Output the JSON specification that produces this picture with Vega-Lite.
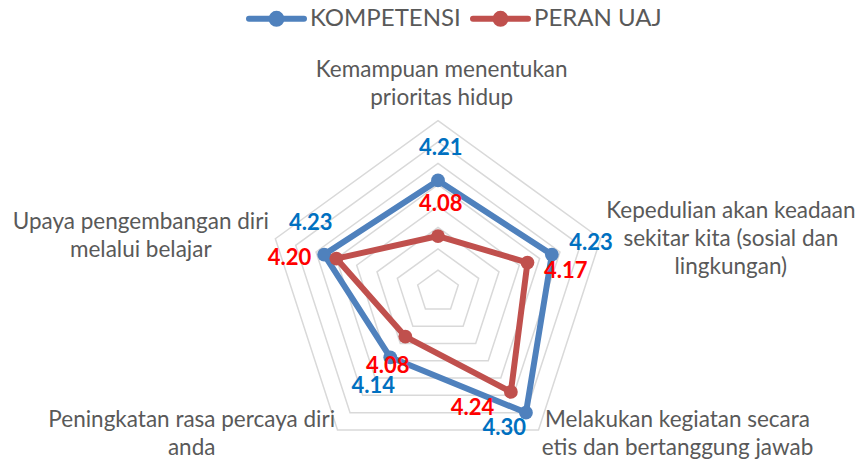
{
  "$schema": "https://vega.github.io/schema/vega-lite/v6.json",
  "width": 858,
  "height": 460,
  "autosize": {"type": "none"},
  "padding": 0,
  "background": "white",
  "config": {"view": {"stroke": null}, "font": "Lato"},
  "datasets": {
    "scores": [
      {"category": "Kemampuan menentukan prioritas hidup", "idx": 0, "series": "KOMPETENSI", "value": 4.21},
      {"category": "Kepedulian akan keadaan sekitar kita (sosial dan lingkungan)", "idx": 1, "series": "KOMPETENSI", "value": 4.23},
      {"category": "Melakukan kegiatan secara etis dan bertanggung jawab", "idx": 2, "series": "KOMPETENSI", "value": 4.30},
      {"category": "Peningkatan rasa percaya diri anda", "idx": 3, "series": "KOMPETENSI", "value": 4.14},
      {"category": "Upaya pengembangan diri melalui belajar", "idx": 4, "series": "KOMPETENSI", "value": 4.23},
      {"category": "Kemampuan menentukan prioritas hidup", "idx": 0, "series": "PERAN UAJ", "value": 4.08},
      {"category": "Kepedulian akan keadaan sekitar kita (sosial dan lingkungan)", "idx": 1, "series": "PERAN UAJ", "value": 4.17},
      {"category": "Melakukan kegiatan secara etis dan bertanggung jawab", "idx": 2, "series": "PERAN UAJ", "value": 4.24},
      {"category": "Peningkatan rasa percaya diri anda", "idx": 3, "series": "PERAN UAJ", "value": 4.08},
      {"category": "Upaya pengembangan diri melalui belajar", "idx": 4, "series": "PERAN UAJ", "value": 4.20}
    ],
    "grid": [
      {"level": 4.00, "ks": [0, 1, 2, 3, 4]},
      {"level": 4.05, "ks": [0, 1, 2, 3, 4]},
      {"level": 4.10, "ks": [0, 1, 2, 3, 4]},
      {"level": 4.15, "ks": [0, 1, 2, 3, 4]},
      {"level": 4.20, "ks": [0, 1, 2, 3, 4]},
      {"level": 4.25, "ks": [0, 1, 2, 3, 4]},
      {"level": 4.30, "ks": [0, 1, 2, 3, 4]},
      {"level": 4.35, "ks": [0, 1, 2, 3, 4]}
    ],
    "cats": [
      {"idx": 0, "label": ["Kemampuan menentukan", "prioritas hidup"]},
      {"idx": 1, "label": ["Kepedulian akan keadaan", "sekitar kita (sosial dan", "lingkungan)"]},
      {"idx": 2, "label": ["Melakukan kegiatan secara", "etis dan bertanggung jawab"]},
      {"idx": 3, "label": ["Peningkatan rasa percaya diri", "anda"]},
      {"idx": 4, "label": ["Upaya pengembangan diri", "melalui belajar"]}
    ]
  },
  "layer": [
    {
      "data": {"name": "grid"},
      "transform": [
        {"flatten": ["ks"], "as": ["k"]},
        {"calculate": "(datum.level - 3.95) * sin(datum.k * 2 * PI / 5)", "as": "x"},
        {"calculate": "(datum.level - 3.95) * cos(datum.k * 2 * PI / 5)", "as": "y"}
      ],
      "mark": {"type": "line", "interpolate": "linear-closed", "stroke": "#D9D9D9", "strokeWidth": 1.5},
      "encoding": {
        "x": {"field": "x", "type": "quantitative", "scale": {"domain": [-1.02456, 0.98246], "nice": false, "zero": false}, "axis": null},
        "y": {"field": "y", "type": "quantitative", "scale": {"domain": [-0.39392, 0.68211], "nice": false, "zero": false}, "axis": null},
        "detail": {"field": "level", "type": "nominal"},
        "order": {"field": "k", "type": "quantitative"}
      }
    },
    {
      "data": {"name": "scores"},
      "transform": [
        {"calculate": "(datum.value - 3.95) * sin(datum.idx * 2 * PI / 5)", "as": "x"},
        {"calculate": "(datum.value - 3.95) * cos(datum.idx * 2 * PI / 5)", "as": "y"}
      ],
      "mark": {"type": "line", "interpolate": "linear-closed", "strokeWidth": 6, "strokeJoin": "round", "strokeCap": "round"},
      "encoding": {
        "x": {"field": "x", "type": "quantitative", "axis": null},
        "y": {"field": "y", "type": "quantitative", "axis": null},
        "order": {"field": "idx", "type": "quantitative"},
        "color": {
          "field": "series", "type": "nominal",
          "scale": {"domain": ["KOMPETENSI", "PERAN UAJ"], "range": ["#4F81BD", "#C0504D"]},
          "legend": {
            "orient": "none", "legendX": 246, "legendY": -12, "direction": "horizontal", "title": null,
            "labelFont": "Lato", "labelFontSize": 24, "labelColor": "#595959", "labelOffset": 3,
            "columnPadding": 0,
            "symbolType": "M-1,0L1,0M-0.18,0A0.18,0.18 0 1,1 0.18,0A0.18,0.18 0 1,1 -0.18,0",
            "symbolSize": 3025, "symbolStrokeWidth": 6,
            "encode": {"symbols": {"update": {"fill": {"scale": "color", "field": "value"}, "stroke": {"scale": "color", "field": "value"}, "strokeCap": {"value": "round"}}}}
          }
        }
      }
    },
    {
      "data": {"name": "scores"},
      "transform": [
        {"calculate": "(datum.value - 3.95) * sin(datum.idx * 2 * PI / 5)", "as": "x"},
        {"calculate": "(datum.value - 3.95) * cos(datum.idx * 2 * PI / 5)", "as": "y"}
      ],
      "mark": {"type": "point", "filled": true, "size": 190, "opacity": 1},
      "encoding": {
        "x": {"field": "x", "type": "quantitative", "axis": null},
        "y": {"field": "y", "type": "quantitative", "axis": null},
        "color": {"field": "series", "type": "nominal"}
      }
    },
    {
      "data": {"name": "scores"},
      "transform": [
        {"calculate": "(datum.series == 'KOMPETENSI' ? [2.8, 39.2, -21.8, -17, -13.4] : [2.8, 38.4, -38.4, -17.5, -46.8])[datum.idx] / 427.5", "as": "ox"},
        {"calculate": "(datum.series == 'KOMPETENSI' ? [-32.1, -11.6, 15.7, 28.7, -31.9] : [-31.7, 8.5, 15.8, 29.4, -0.3])[datum.idx] / 427.5", "as": "oy"},
        {"calculate": "(datum.value - 3.95) * sin(datum.idx * 2 * PI / 5) + datum.ox", "as": "x"},
        {"calculate": "(datum.value - 3.95) * cos(datum.idx * 2 * PI / 5) - datum.oy", "as": "y"}
      ],
      "mark": {"type": "text", "font": "Lato", "fontSize": 22, "fontWeight": "bold", "align": "center", "baseline": "middle"},
      "encoding": {
        "x": {"field": "x", "type": "quantitative", "axis": null},
        "y": {"field": "y", "type": "quantitative", "axis": null},
        "text": {"field": "value", "type": "quantitative", "format": ".2f"},
        "color": {"condition": {"test": "datum.series == 'KOMPETENSI'", "value": "#0070C0"}, "value": "#FF0000"}
      }
    },
    {
      "data": {"name": "cats"},
      "transform": [
        {"calculate": "0.4 * sin(datum.idx * 2 * PI / 5) + [3.7, 130.2, 139, -145.8, -134.6][datum.idx] / 427.5", "as": "x"},
        {"calculate": "0.4 * cos(datum.idx * 2 * PI / 5) - [-43.3, -20.5, -2.6, -3.2, -9.5][datum.idx] / 427.5", "as": "y"}
      ],
      "mark": {"type": "text", "font": "Lato", "fontSize": 22.5, "color": "#595959", "align": "center", "baseline": "alphabetic", "lineHeight": 28},
      "encoding": {
        "x": {"field": "x", "type": "quantitative", "axis": null},
        "y": {"field": "y", "type": "quantitative", "axis": null},
        "text": {"field": "label"}
      }
    }
  ]
}
